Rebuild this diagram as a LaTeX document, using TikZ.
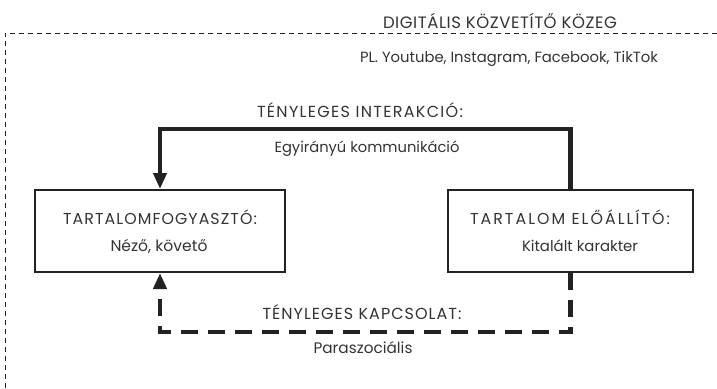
\documentclass[tikz,border=0pt]{standalone}
\usepackage{fontspec}
\setmainfont{Poppins}
\usetikzlibrary{arrows.meta}
\definecolor{ink}{HTML}{222222}
\definecolor{txt}{HTML}{333333}
\newlength\fitlen
\newlength\fitlenb
% lower-case text: font size chosen so that the text has the given width
\newcommand\fitto[2]{\settowidth\fitlen{\fontsize{10}{12}\selectfont #2}%
  \pgfmathsetmacro\fitsz{10*#1/\fitlen}%
  \fontsize{\fitsz pt}{\fitsz pt}\selectfont #2}
% capitals: fixed size #1, letter spacing chosen so the text has width #2
\newcommand\capfit[3]{%
  \settowidth\fitlen{\fontsize{#1}{#1}\selectfont #3}%
  \settowidth\fitlenb{\fontsize{#1}{#1}\selectfont\addfontfeature{LetterSpace=10}#3}%
  \pgfmathsetmacro\wz{\fitlen}\pgfmathsetmacro\wo{\fitlenb}%
  \pgfmathsetmacro\lsp{10*(#2-\wz)/(\wo-\wz)}%
  \fontsize{#1}{#1}\selectfont\addfontfeature{LetterSpace=\lsp}#3}
\begin{document}
\begin{tikzpicture}[x=1pt,y=-1pt,
  box/.style={draw=ink, line width=2pt, inner sep=0pt},
  lbl/.style={inner sep=0pt, anchor=base, text=txt},
  conn/.style={draw=ink, line width=4.5pt, -{Triangle[width=13pt,length=16pt]}},
  dconn/.style={conn, dash pattern=on 17pt off 10pt},
  frame/.style={draw=ink, line width=0.8pt, dash pattern=on 5pt off 4pt}]
\useasboundingbox (0,0) rectangle (717,388);
% outer medium frame
\coordinate (fr) at (717,33);
\coordinate (fc) at (5,33);
\coordinate (fb) at (5,388);
\draw[frame] (fr) -- (fc) -- (fb);
\node[lbl] (title) at (500,28) {\capfit{16.5}{234}{DIGITÁLIS KÖZVETÍTŐ KÖZEG}};
\node[lbl] (pl) at (509,62) {\fitto{298}{PL. Youtube, Instagram, Facebook, TikTok}};
% boxes
\node[box, minimum width=250pt, minimum height=82pt] (L) at (160,231) {};
\node[box, minimum width=245pt, minimum height=82pt] (R) at (570.5,231) {};
\node[lbl] (Lt) at (160,224) {\capfit{15.8}{194}{TARTALOMFOGYASZTÓ:}};
\node[lbl] (Ls) at (159,251) {\fitto{97}{Néző, követő}};
\node[lbl] (Rt) at (570,224) {\capfit{15.8}{200}{TARTALOM ELŐÁLLÍTÓ:}};
\node[lbl] (Rs) at (580,251) {\fitto{116}{Kitalált karakter}};
% top connector
\coordinate (top) at (L.north |- 0,129);
\draw[conn] (R.north) |- (top) -- (L.north);
\node[lbl] (ti) at (360,117) {\capfit{16}{206}{TÉNYLEGES INTERAKCIÓ:}};
\node[lbl] (eg) at (367,152) {\fitto{185}{Egyirányú kommunikáció}};
% bottom connector
\coordinate (bot) at (L.south |- 0,332);
\draw[dconn] (R.south) |- (bot) -- (L.south);
\node[lbl] (tk) at (362,319) {\capfit{16}{199}{TÉNYLEGES KAPCSOLAT:}};
\node[lbl] (pa) at (363,353) {\fitto{99}{Paraszociális}};
\end{tikzpicture}
\end{document}
